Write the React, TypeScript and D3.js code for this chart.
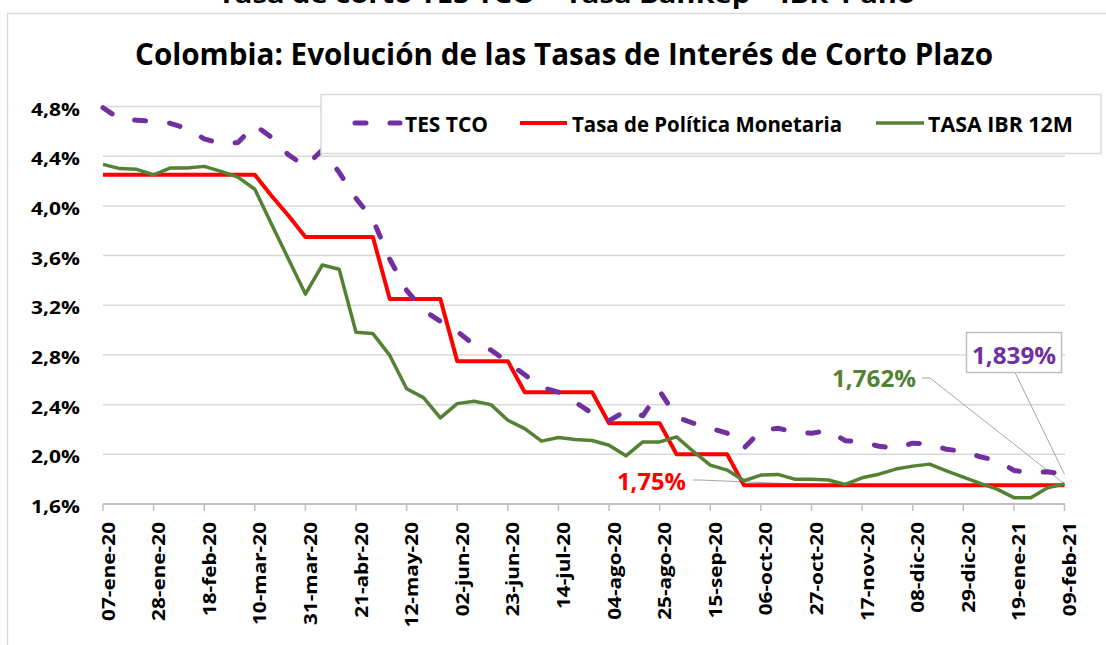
import React from "react";
import * as d3 from "d3";

// eje X: una fecha por semana, etiquetas cada 3 semanas
const tickLabels = [
  "07-ene-20", "28-ene-20", "18-feb-20", "10-mar-20", "31-mar-20", "21-abr-20",
  "12-may-20", "02-jun-20", "23-jun-20", "14-jul-20", "04-ago-20", "25-ago-20",
  "15-sep-20", "06-oct-20", "27-oct-20", "17-nov-20", "08-dic-20", "29-dic-20",
  "19-ene-21", "09-feb-21",
];
const yTicks = [1.6, 2.0, 2.4, 2.8, 3.2, 3.6, 4.0, 4.4, 4.8];

const tesTco = [
  4.79, 4.7, 4.69, 4.68, 4.665, 4.62, 4.54, 4.5, 4.51, 4.65,
  4.55, 4.41, 4.32, 4.45, 4.27, 4.06, 3.89, 3.57, 3.32, 3.16,
  3.07, 2.99, 2.88, 2.84, 2.74, 2.64, 2.54, 2.5, 2.42, 2.33,
  2.27, 2.35, 2.31, 2.51, 2.3, 2.25, 2.21, 2.17, 2.05, 2.19,
  2.21, 2.18, 2.17, 2.19, 2.11, 2.1, 2.065, 2.05, 2.09, 2.085,
  2.04, 2.025, 1.98, 1.95, 1.87, 1.85, 1.86, 1.839,
];
const tasaPolitica = [
  4.25, 4.25, 4.25, 4.25, 4.25, 4.25, 4.25, 4.25, 4.25, 4.25,
  4.08, 3.92, 3.75, 3.75, 3.75, 3.75, 3.75, 3.25, 3.25, 3.25,
  3.25, 2.75, 2.75, 2.75, 2.75, 2.5, 2.5, 2.5, 2.5, 2.5,
  2.25, 2.25, 2.25, 2.25, 2.0, 2.0, 2.0, 2.0, 1.75, 1.75,
  1.75, 1.75, 1.75, 1.75, 1.75, 1.75, 1.75, 1.75, 1.75, 1.75,
  1.75, 1.75, 1.75, 1.75, 1.75, 1.75, 1.75, 1.75,
];
const ibr12m = [
  4.334, 4.3, 4.294, 4.25, 4.305, 4.305, 4.318, 4.278, 4.232, 4.134,
  3.85, 3.57, 3.29, 3.524, 3.49, 2.983, 2.972, 2.796, 2.528, 2.456,
  2.293, 2.408, 2.427, 2.4, 2.274, 2.207, 2.106, 2.135, 2.119, 2.111,
  2.073, 1.988, 2.1, 2.1, 2.14, 2.023, 1.913, 1.873, 1.787, 1.833,
  1.838, 1.8, 1.8, 1.793, 1.758, 1.811, 1.84, 1.881, 1.905, 1.921,
  1.867, 1.817, 1.766, 1.72, 1.651, 1.651, 1.731, 1.762,
];

const weeks = d3.timeDay.range(new Date(2020, 0, 7), new Date(2021, 1, 10), 7);

const PURPLE = "#7030A0";
const RED = "#FF0000";
const GREEN = "#548235";
const FONT = "'Open Sans', sans-serif";

const W = 1106;
const H = 645;

export default function App() {
  const x = d3.scaleTime().domain([weeks[0], weeks[weeks.length - 1]]).range([103, 1064.5]);
  const y = d3.scaleLinear().domain([1.6, 4.8]).range([504, 106.5]);
  const line = d3
    .line<number>()
    .x((_, i) => x(weeks[i]))
    .y((d) => y(d));
  const tickDates = weeks.filter((_, i) => i % 3 === 0);
  const last = weeks.length - 1;
  const fmt = (v: number) => d3.format(".1f")(v).replace(".", ",") + "%";

  return (
    <div style={{ position: "absolute", left: 0, top: 0 }}>
      <svg width={W} height={H} style={{ display: "block", fontFamily: FONT }}>
        <rect width={W} height={H} fill="#fff" />
        <text x={218} y={3} fontSize={24} fontWeight={700} textLength={697} lengthAdjust="spacingAndGlyphs">
          Tasa de corto TES TCO – Tasa BanRep – IBR 1 año
        </text>
        <rect x={7.5} y={13.5} width={1120} height={660} fill="#fff" stroke="#d9d9d9" strokeWidth={1.5} />
        <text x={135} y={65} fontSize={30} fontWeight={700} textLength={858} lengthAdjust="spacingAndGlyphs">
          Colombia: Evolución de las Tasas de Interés de Corto Plazo
        </text>

        {yTicks.slice(1).map((v) => (
          <line key={v} x1={103} x2={1065} y1={y(v)} y2={y(v)} stroke="#d9d9d9" strokeWidth={1.5} />
        ))}
        {yTicks.map((v) => (
          <text
            key={"l" + v}
            transform={`translate(80,${y(v) + 9}) scale(1.2,1)`}
            textAnchor="end"
            fontSize={17.5}
            fontWeight={700}
          >
            {fmt(v)}
          </text>
        ))}

        <line x1={103} x2={1065} y1={y(1.6)} y2={y(1.6)} stroke="#bfbfbf" strokeWidth={2} />
        {tickDates.map((d, i) => (
          <g key={i}>
            <line x1={x(d)} x2={x(d)} y1={y(1.6)} y2={y(1.6) + 7} stroke="#bfbfbf" strokeWidth={1.5} />
            <text
              transform={`translate(${x(d) + 11.5},522) rotate(-90) scale(1.22,1)`}
              textAnchor="end"
              fontSize={17}
              fontWeight={700}
            >
              {tickLabels[i]}
            </text>
          </g>
        ))}

        {/* líneas guía de las etiquetas */}
        <path
          d={`M693,480 H700 L${x(weeks[43])},${y(tasaPolitica[43])}`}
          fill="none"
          stroke="#a6a6a6"
          strokeWidth={1}
        />
        <path
          d={`M922,378 H930 L${x(weeks[last])},${y(ibr12m[last])}`}
          fill="none"
          stroke="#a6a6a6"
          strokeWidth={1}
        />
        <path
          d={`M1015,372.5 L${x(weeks[last])},${y(tesTco[last])}`}
          fill="none"
          stroke="#a6a6a6"
          strokeWidth={1}
        />

        <path d={line(tasaPolitica) || ""} fill="none" stroke={RED} strokeWidth={4} strokeLinejoin="round" />
        <path
          d={line(tesTco) || ""}
          fill="none"
          stroke={PURPLE}
          strokeWidth={5}
          strokeDasharray="11 24"
          strokeLinecap="round"
          strokeLinejoin="round"
        />
        <path d={line(ibr12m) || ""} fill="none" stroke={GREEN} strokeWidth={3.5} strokeLinejoin="round" />

        {/* etiquetas de datos */}
        <text x={617} y={490} fontSize={23} fontWeight={700} fill={RED} textLength={69} lengthAdjust="spacingAndGlyphs">
          1,75%
        </text>
        <text x={832} y={387} fontSize={23} fontWeight={700} fill={GREEN} textLength={84} lengthAdjust="spacingAndGlyphs">
          1,762%
        </text>
        <rect x={966.5} y={332.5} width={95} height={40} fill="#fff" stroke="#bfbfbf" strokeWidth={1.5} />
        <text x={972} y={363.5} fontSize={24} fontWeight={700} fill={PURPLE} textLength={84} lengthAdjust="spacingAndGlyphs">
          1,839%
        </text>

        {/* leyenda */}
        <rect x={321} y={94.5} width={780} height={59} fill="#fff" stroke="#d9d9d9" strokeWidth={1.5} />
        <line x1={355} x2={400} y1={123} y2={123} stroke={PURPLE} strokeWidth={5} strokeDasharray="11 24" strokeLinecap="round" />
        <text x={405} y={131.5} fontSize={21} fontWeight={700} textLength={83} lengthAdjust="spacingAndGlyphs">
          TES TCO
        </text>
        <line x1={520} x2={567} y1={123} y2={123} stroke={RED} strokeWidth={4} />
        <text x={572} y={131.5} fontSize={21} fontWeight={700} textLength={270} lengthAdjust="spacingAndGlyphs">
          Tasa de Política Monetaria
        </text>
        <line x1={876} x2={924} y1={123} y2={123} stroke={GREEN} strokeWidth={3.5} />
        <text x={928} y={131.5} fontSize={21} fontWeight={700} textLength={145} lengthAdjust="spacingAndGlyphs">
          TASA IBR 12M
        </text>
      </svg>
    </div>
  );
}
